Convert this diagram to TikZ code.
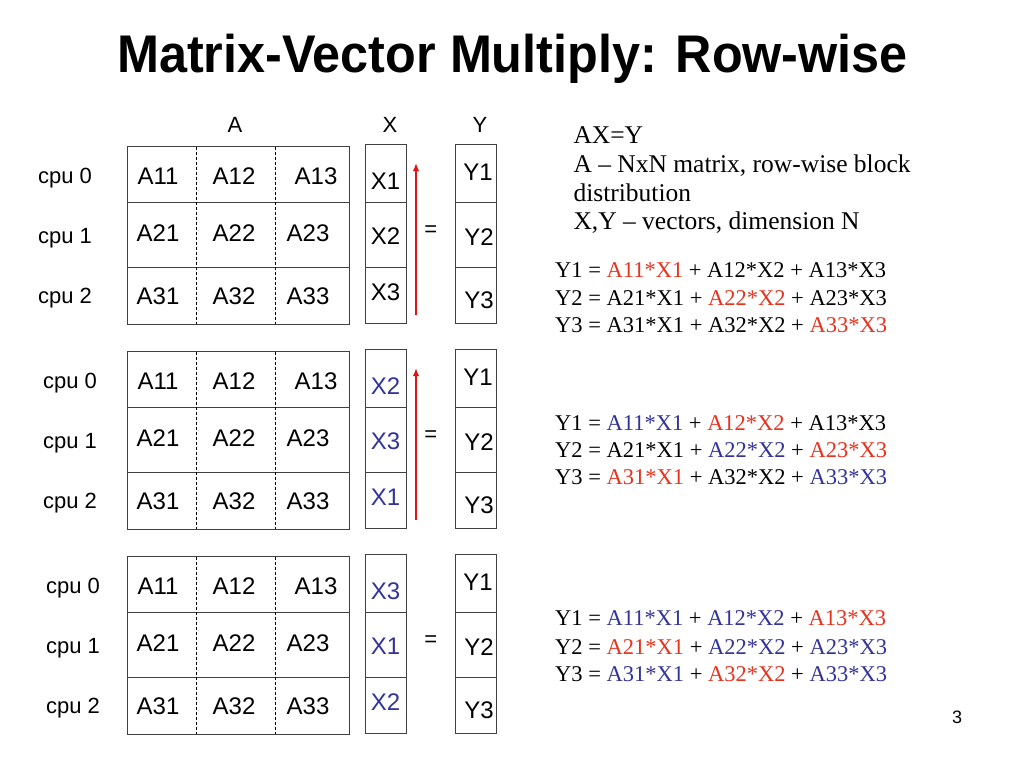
\documentclass[tikz,border=0pt]{standalone}
\usepackage{fontspec}
\setmainfont{Liberation Sans}
\newfontfamily\serifont{Liberation Serif}
\usetikzlibrary{arrows.meta}
\definecolor{eqred}{RGB}{232,50,30}
\definecolor{xblue}{RGB}{51,51,153}
\definecolor{arrred}{RGB}{225,20,20}
\newcommand{\rterm}[1]{\textcolor{eqred}{#1}}
\newcommand{\bterm}[1]{\textcolor{xblue}{#1}}
\tikzset{
  boxline/.style={draw=black!75,line width=1pt},
  dashline/.style={draw=black,line width=0.7pt,dash pattern=on 3pt off 2pt},
  lab/.style={font=\fontsize{22}{26}\selectfont,text height=15.75pt,text depth=0pt,inner sep=0pt},
  cell/.style={font=\fontsize{24}{28}\selectfont,text height=17.2pt,text depth=0pt,inner sep=0pt},
  desc/.style={font=\serifont\fontsize{25.5}{30}\selectfont,inner sep=0pt,anchor=base west},
  eq/.style={font=\serifont\fontsize{22.5}{27}\selectfont,inner sep=0pt,anchor=base west},
  redarrow/.style={draw=arrred,line width=1.8pt,-{Latex[length=8pt,width=6.5pt]}},
}
\begin{document}
\begin{tikzpicture}[x=1pt,y=-1pt]
\useasboundingbox[fill=white] (0,0) rectangle (1024,768);
% title
\node[inner sep=0pt,anchor=base] (title) at (512.5,72.3)
  {\scalebox{0.95}[1]{\fontsize{53}{60}\selectfont\bfseries Matrix-Vector Multiply: Row-wise}};
% headers
\node[lab] (hA) at (235,125) {A};
\node[lab] (hX) at (390,125) {X};
\node[lab] (hY) at (480,125) {Y};
% blocks
\foreach \b/\T/\cx/\xa/\xb/\xc/\col in {1/146.7/65/X1/X2/X3/black, 2/351.7/70/X2/X3/X1/xblue, 3/556.7/73/X3/X1/X2/xblue}{
  % matrix A
  \draw[boxline] (127.3,\T) rectangle (349,\T+177.3);
  \draw[boxline] (127.3,\T+56) -- (349,\T+56);
  \draw[boxline] (127.3,\T+121) -- (349,\T+121);
  \draw[dashline] (196.3,\T) -- (196.3,\T+177.3);
  \draw[dashline] (275.3,\T) -- (275.3,\T+177.3);
  % vector X
  \draw[boxline] (365.3,\T-2.4) rectangle (406,\T+176.6);
  \draw[boxline] (365.3,\T+56) -- (406,\T+56);
  \draw[boxline] (365.3,\T+121) -- (406,\T+121);
  % vector Y
  \draw[boxline] (455.3,\T-2.4) rectangle (496,\T+176.6);
  \draw[boxline] (455.3,\T+56) -- (496,\T+56);
  \draw[boxline] (455.3,\T+121) -- (496,\T+121);
  % cpu labels
  \node[lab] (cpu\b a) at (\cx,\T+28.5) {cpu 0};
  \node[lab] (cpu\b b) at (\cx,\T+88.5) {cpu 1};
  \node[lab] (cpu\b c) at (\cx,\T+149) {cpu 2};
  % matrix entries
  \node[cell] (a\b11) at (158,\T+29.5) {A11};
  \node[cell] (a\b12) at (234,\T+29.5) {A12};
  \node[cell] (a\b13) at (316,\T+29.5) {A13};
  \node[cell] (a\b21) at (158,\T+86) {A21};
  \node[cell] (a\b22) at (234,\T+86) {A22};
  \node[cell] (a\b23) at (308,\T+86) {A23};
  \node[cell] (a\b31) at (158,\T+149.5) {A31};
  \node[cell] (a\b32) at (234,\T+149.5) {A32};
  \node[cell] (a\b33) at (308,\T+149.5) {A33};
  % X entries
  \node[cell,text=\col] (x\b a) at (385.5,\T+34) {\xa};
  \node[cell,text=\col] (x\b b) at (385.5,\T+89.5) {\xb};
  \node[cell,text=\col] (x\b c) at (385.5,\T+145.5) {\xc};
  % Y entries
  \node[cell] (y\b a) at (478,\T+25) {Y1};
  \node[cell] (y\b b) at (479,\T+90) {Y2};
  \node[cell] (y\b c) at (479,\T+153.5) {Y3};
  % equals
  \node[lab,text height=8pt] (eqs\b) at (430.7,\T+85.5) {=};
}
% rotation arrows
\coordinate (s1) at (416,314.9);
\coordinate (e1) at (416,163);
\draw[redarrow] (s1) -- (e1);
\coordinate (s2) at (416,520);
\coordinate (e2) at (416,368);
\draw[redarrow] (s2) -- (e2);
% description
\node[desc] (d1) at (573.3,143) {AX=Y};
\node[desc] (d2) at (573.3,172) {A – NxN matrix, row-wise block};
\node[desc] (d3) at (573.3,201) {distribution};
\node[desc] (d4) at (573.3,229) {X,Y – vectors, dimension N};
% equations block 1
\node[eq] (e1a) at (555,277.5) {Y1 = \rterm{A11*X1} + A12*X2 + A13*X3};
\node[eq] (e1b) at (555,305.3) {Y2 = A21*X1 + \rterm{A22*X2} + A23*X3};
\node[eq] (e1c) at (555,332.8) {Y3 = A31*X1 + A32*X2 + \rterm{A33*X3}};
% equations block 2
\node[eq] (e2a) at (555,430.8) {Y1 = \bterm{A11*X1} + \rterm{A12*X2} + A13*X3};
\node[eq] (e2b) at (555,457.8) {Y2 = A21*X1 + \bterm{A22*X2} + \rterm{A23*X3}};
\node[eq] (e2c) at (555,484.8) {Y3 = \rterm{A31*X1} + A32*X2 + \bterm{A33*X3}};
% equations block 3
\node[eq] (e3a) at (555,625.8) {Y1 = \bterm{A11*X1} + \bterm{A12*X2} + \rterm{A13*X3}};
\node[eq] (e3b) at (555,654.2) {Y2 = \rterm{A21*X1} + \bterm{A22*X2} + \bterm{A23*X3}};
\node[eq] (e3c) at (555,681.5) {Y3 = \bterm{A31*X1} + \rterm{A32*X2} + \bterm{A33*X3}};
% page number
\node[lab,font=\fontsize{18}{22}\selectfont,text height=12.9pt] (pg) at (957,716.7) {3};
\end{tikzpicture}
\end{document}
